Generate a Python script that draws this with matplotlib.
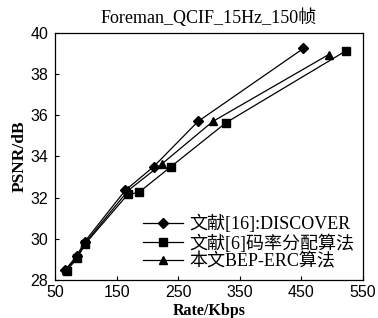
import matplotlib.pyplot as plt

# 数据
rate_discover = [67, 85, 98, 164, 210, 282, 453]
psnr_discover = [28.5, 29.15, 29.85, 32.35, 33.5, 35.7, 39.25]

rate_ref6 = [69, 86, 99, 168, 186, 238, 328, 523]
psnr_ref6 = [28.45, 29.05, 29.75, 32.15, 32.25, 33.5, 35.65, 39.15]

rate_bep = [68, 86, 99, 169, 224, 306, 494]
psnr_bep = [28.5, 29.1, 29.8, 32.35, 33.65, 35.7, 38.95]

labels = ['文献[16]:DISCOVER', '文献[6]码率分配算法', '本文BEP-ERC算法']
xticks = [50, 150, 250, 350, 450, 550]
yticks = [28, 30, 32, 34, 36, 38, 40]

serif = ['Liberation Serif', 'Noto Sans CJK SC']
sans = ['Liberation Sans', 'DejaVu Sans']

fig = plt.figure(figsize=(3.78, 3.18), dpi=100)
ax = fig.add_axes([0.1455, 0.12, 0.815, 0.776])

ax.plot(rate_discover, psnr_discover, 'k-', marker='D', markersize=5, lw=0.9, label=labels[0])
ax.plot(rate_ref6, psnr_ref6, 'k-', marker='s', markersize=5.5, lw=0.9, label=labels[1])
ax.plot(rate_bep, psnr_bep, 'k-', marker='^', markersize=6, lw=0.9, label=labels[2])

ax.set_xlim(50, 550)
ax.set_ylim(28, 40)
ax.set_xticks(xticks)
ax.set_yticks(yticks)
ax.tick_params(direction='in', length=3, width=0.8, labelsize=11.5)
ax.tick_params(axis='x', pad=4)
ax.tick_params(axis='y', pad=5)
for lab in ax.get_xticklabels() + ax.get_yticklabels():
    lab.set_family(sans)
for s in ax.spines.values():
    s.set_linewidth(0.9)

ax.set_title('Foreman_QCIF_15Hz_150帧', family=serif, fontsize=13, pad=7)
ax.set_xlabel('Rate/Kbps', family=serif, fontsize=11.5, fontweight='bold', labelpad=2)
ax.set_ylabel('PSNR/dB', family=serif, fontsize=12.5, fontweight='bold', labelpad=2)

leg = ax.legend(loc='lower right', frameon=False, handlelength=2.2,
                handletextpad=0.35, labelspacing=0.05, borderpad=0.2,
                borderaxespad=0.3, prop={'family': serif, 'size': 13})

fig.savefig('out.png', dpi=100)
